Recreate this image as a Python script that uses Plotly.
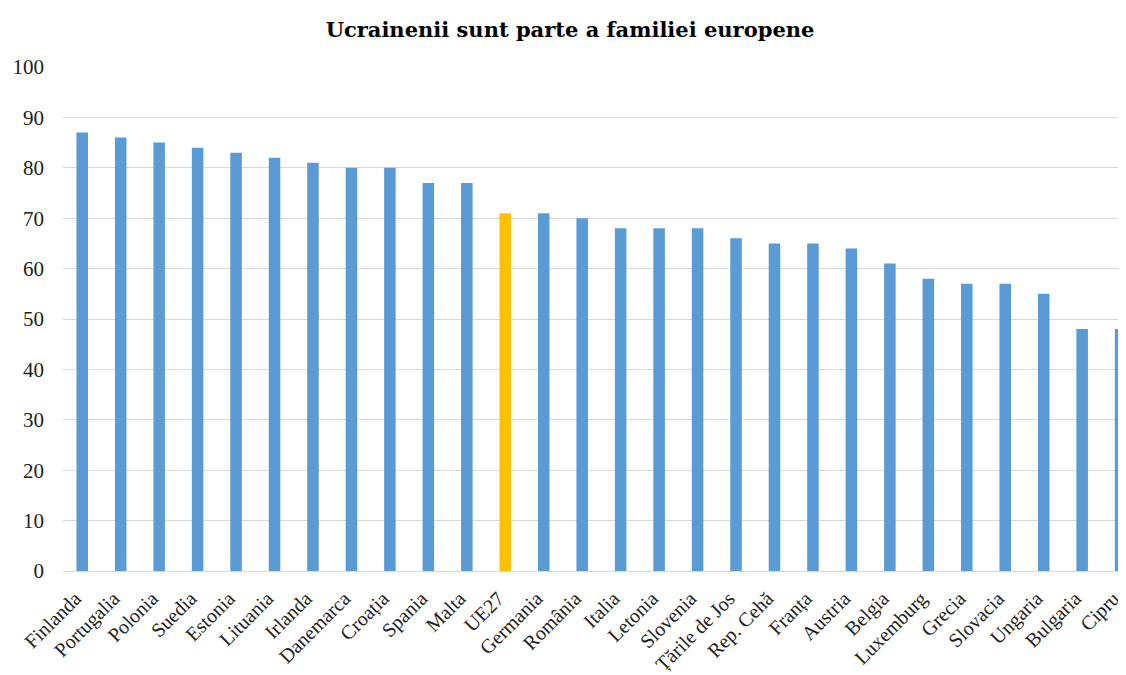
import plotly.graph_objects as go

categories = ["Finlanda", "Portugalia", "Polonia", "Suedia", "Estonia", "Lituania",
              "Irlanda", "Danemarca", "Croația", "Spania", "Malta", "UE27",
              "Germania", "România", "Italia", "Letonia", "Slovenia", "Țările de Jos",
              "Rep. Cehă", "Franța", "Austria", "Belgia", "Luxemburg", "Grecia",
              "Slovacia", "Ungaria", "Bulgaria", "Cipru"]
values = [87, 86, 85, 84, 83, 82, 81, 80, 80, 77, 77, 71,
          71, 70, 68, 68, 68, 66, 65, 65, 64, 61, 58, 57,
          57, 55, 48, 48]
highlight = "UE27"
title_text = "Ucrainenii sunt parte a familiei europene"
y_ticks = list(range(0, 101, 10))

colors = ["#FFC000" if c == highlight else "#5B9BD5" for c in categories]

fig = go.Figure(go.Bar(
    x=categories, y=values, marker_color=colors, marker_line_width=0, width=0.3
))

# page body has an 8px default margin; compensate so the figure fills the window
W, H = 1118, 667
serif = "Liberation Serif, Times New Roman, serif"
fig.update_layout(
    width=W, height=H,
    paper_bgcolor="white", plot_bgcolor="white",
    margin=dict(l=55, r=0, t=59, b=104, autoexpand=False),
    title=dict(text="<b>" + title_text + "</b>", x=562 / W, xanchor="center",
               y=1 - 22 / H, yanchor="middle",
               font=dict(family="DejaVu Serif, serif", size=21, color="black")),
    showlegend=False,
    bargap=0.7,
)
fig.update_xaxes(
    range=[-0.5, 27.14], tickangle=-45, showgrid=False, automargin=False,
    tickfont=dict(family=serif, size=20, color="#222222"),
    ticklabelshift=-7, ticklabelstandoff=7,
    showline=True, linecolor="#d9d9d9", linewidth=1, ticks="",
)
fig.update_yaxes(
    range=[0, 100], tickvals=y_ticks, showgrid=True, gridcolor="#d9d9d9",
    gridwidth=1, zeroline=False, ticks="", ticklabelstandoff=18, automargin=False,
    tickfont=dict(family=serif, size=21, color="#222222"),
)

fig.write_html("out.html")
